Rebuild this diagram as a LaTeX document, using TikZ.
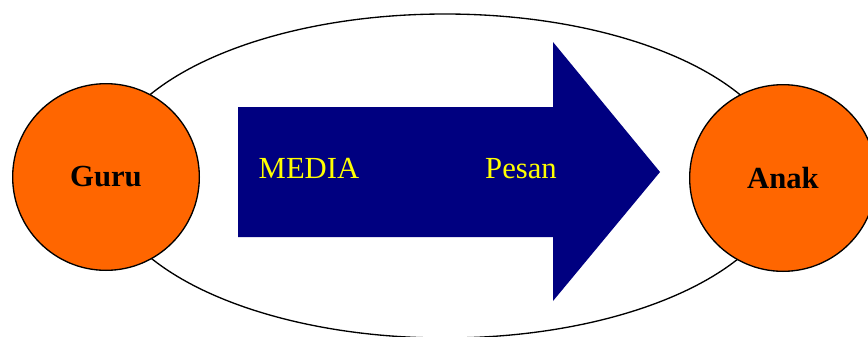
\documentclass[tikz,border=0pt]{standalone}
\usepackage{fontspec}
\setmainfont{Liberation Serif}
\definecolor{personorange}{HTML}{FF6600}
\definecolor{medianavy}{HTML}{000080}
\definecolor{medianote}{HTML}{FFFF00}
\tikzset{
  every picture/.style={line join=round, line cap=round},
  person/.style={circle, draw=black, line width=1pt, fill=personorange, minimum size=140pt, inner sep=0pt, font=\fontsize{23}{27}\selectfont\bfseries},
  arrowtext/.style={text=medianote, anchor=base, inner sep=0pt, font=\fontsize{23}{27}\selectfont},
}

\begin{document}
\begin{tikzpicture}[x=0.75pt,y=-0.75pt]
\useasboundingbox (0,0) rectangle (868,336);
\draw[line width=1pt] (445,176) ellipse [x radius=255.75pt, y radius=121.5pt];
\fill[medianavy] (238,107) -- (553,107) -- (553,42) -- (660,172) -- (553,301) -- (553,237) -- (238,237) -- cycle;
\node[arrowtext] (media) at (309,178) {MEDIA};
\node[arrowtext] (pesan) at (521,178) {Pesan};
\node[person] (guru) at (106,177) {Guru};
\node[person] (anak) at (783,178) {Anak};
\end{tikzpicture}
\end{document}
